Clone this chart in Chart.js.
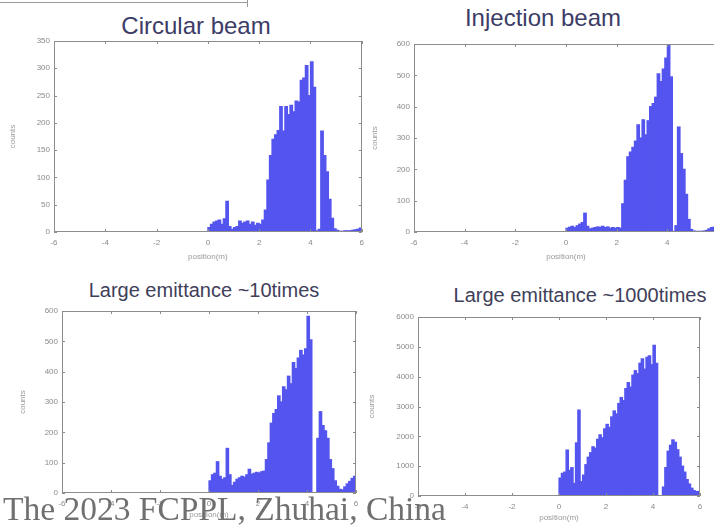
<!DOCTYPE html>
<html>
<head>
<meta charset="utf-8">
<script src="https://cdn.jsdelivr.net/npm/chart.js@4.4.0/dist/chart.umd.min.js"></script>
<style>
body { margin:0; width:714px; height:528px; overflow:hidden; background:#fff; position:relative; font-family:"Liberation Sans", Arial, sans-serif; }
.panel { position:absolute; }
.title { position:absolute; white-space:nowrap; line-height:1; transform:translate(-50%,-50%); }
#footer { position:absolute; left:3px; top:492px; font-family:"Liberation Serif", "Times New Roman", serif; font-size:33.5px; line-height:1; color:#707070; white-space:nowrap; z-index:5; }
.rule { position:absolute; background:#9a9a9a; }
</style>
</head>
<body>

<div class="rule" style="left:0;top:2px;width:247px;height:1px"></div>
<div class="rule" style="left:247px;top:0;width:1px;height:7px"></div>

<div class="title" style="left:196px;top:26px;font-size:24px;color:#3c3c66">Circular beam</div>
<div class="title" style="left:543px;top:18px;font-size:24px;color:#3c3c66">Injection beam</div>
<div class="title" style="left:204px;top:290px;font-size:20px;color:#40405a">Large emittance ~10times</div>
<div class="title" style="left:580px;top:295px;font-size:20px;color:#40405a">Large emittance ~1000times</div>

<div class="panel" style="left:0;top:30px"><canvas id="c1" width="370" height="240"></canvas></div>
<div class="panel" style="left:357px;top:30px"><canvas id="c2" width="370" height="240"></canvas></div>
<div class="panel" style="left:0;top:295px"><canvas id="c3" width="370" height="230"></canvas></div>
<div class="panel" style="left:357px;top:300px"><canvas id="c4" width="357" height="228"></canvas></div>

<div id="footer">The 2023 FCPPL, Zhuhai, China</div>

<script>
// histogram bins, 0.1 m wide (nothing below 0 m)
const binCenters = [
  0.05, 0.15, 0.25, 0.35, 0.45, 0.55, 0.65, 0.75, 0.85, 0.95,
  1.05, 1.15, 1.25, 1.35, 1.45, 1.55, 1.65, 1.75, 1.85, 1.95,
  2.05, 2.15, 2.25, 2.35, 2.45, 2.55, 2.65, 2.75, 2.85, 2.95,
  3.05, 3.15, 3.25, 3.35, 3.45, 3.55, 3.65, 3.75, 3.85, 3.95,
  4.05, 4.15, 4.25, 4.35, 4.45, 4.55, 4.65, 4.75, 4.85, 4.95,
  5.05, 5.15, 5.25, 5.35, 5.45, 5.55, 5.65, 5.75, 5.85, 5.95
]

const circularCounts = [
  8, 14, 18, 20, 22, 14, 24, 56, 10, 5,
  8, 10, 20, 16, 18, 20, 14, 18, 12, 16,
  14, 22, 40, 95, 140, 170, 178, 186, 230, 185,
  230, 215, 232, 220, 240, 238, 278, 282, 305, 250,
  312, 265, 2, 5, 185, 140, 110, 60, 25, 6,
  3, 1, 1, 2, 2, 2, 3, 4, 5, 7
]

const injectionCounts = [
  12, 15, 18, 14, 20, 25, 30, 60, 18, 10,
  12, 14, 16, 15, 18, 14, 16, 12, 14, 12,
  14, 12, 90, 165, 240, 255, 270, 290, 342, 300,
  358, 310, 355, 400, 410, 430, 505, 480, 520, 555,
  598, 495, 2, 20, 335, 250, 200, 120, 40, 8,
  3, 2, 2, 2, 3, 5, 10, 14, 15, 12
]

const emit10Counts = [
  40, 60, 65, 103, 55, 45, 50, 147, 60, 25,
  35, 45, 50, 55, 52, 60, 78, 62, 65, 68,
  66, 70, 72, 110, 165, 230, 262, 275, 320, 300,
  350, 340, 385, 360, 430, 410, 445, 470, 455, 475,
  582, 505, 0, 0, 180, 268, 222, 205, 180, 110,
  80, 40, 22, 12, 10, 20, 30, 38, 48, 55
]

const emit1000Counts = [
  600, 760, 800, 1540, 860, 950, 420, 1780, 2880, 480,
  700, 1050, 1300, 1450, 1650, 1600, 1900, 2050, 1950, 2250,
  2400, 2300, 2650, 2850, 2750, 3100, 3300, 3200, 3600, 3800,
  3650, 4050, 4200, 4100, 4450, 4600, 4250, 4650, 4700, 4400,
  5050, 4450, 0, 0, 300, 950, 1500, 1700, 1880, 1800,
  1550, 1300, 1000, 800, 550, 400, 260, 180, 150, 150
]

const xMin = -6, xMax = 6, xStep = 2
const barColor = '#5454ef'

// box around the plot with little inward ticks, like the gnuplot frame
const framePlugin = {
  id: 'frame',
  afterDatasetsDraw(chart) {
    const ctx = chart.ctx
    const a = chart.chartArea
    const sx = chart.scales.x, sy = chart.scales.y
    ctx.save()
    ctx.strokeStyle = '#8c8c8c'
    ctx.lineWidth = 1
    ctx.strokeRect(Math.round(a.left) + 0.5, Math.round(a.top) + 0.5,
      Math.round(a.right - a.left) - 1, Math.round(a.bottom - a.top) - 1)
    ctx.beginPath()
    sx.ticks.forEach(t => {
      const px = Math.round(sx.getPixelForValue(t.value)) + 0.5
      ctx.moveTo(px, a.top); ctx.lineTo(px, a.top + 3)
      ctx.moveTo(px, a.bottom); ctx.lineTo(px, a.bottom - 3)
    })
    sy.ticks.forEach(t => {
      const py = Math.round(sy.getPixelForValue(t.value)) + 0.5
      ctx.moveTo(a.left, py); ctx.lineTo(a.left + 3, py)
      ctx.moveTo(a.right, py); ctx.lineTo(a.right - 3, py)
    })
    ctx.stroke()
    ctx.restore()
  }
}

function makeHist(id, counts, yMax, yStep, box) {
  const points = binCenters.map((x, i) => ({x: x, y: counts[i]}))
  new Chart(document.getElementById(id), {
    type: 'bar',
    data: {
      datasets: [{
        data: points,
        backgroundColor: barColor,
        borderWidth: 0,
        inflateAmount: 0.6,
        barPercentage: 1,
        categoryPercentage: 1
      }]
    },
    options: {
      responsive: false,
      animation: false,
      layout: {padding: {top: box.top, right: box.right, left: 0, bottom: 0}},
      plugins: {legend: {display: false}, tooltip: {enabled: false}},
      scales: {
        x: {
          type: 'linear', min: xMin, max: xMax, offset: false,
          grid: {display: false, drawTicks: false, offset: false},
          border: {display: false},
          ticks: {stepSize: xStep, color: '#8a8a8a', font: {size: 8}, padding: 6},
          title: {display: true, text: 'position(m)', color: '#9a9a9a', font: {size: 8}, padding: {top: 0, bottom: box.xTitle}},
          afterFit(scale) { scale.height = box.xh }
        },
        y: {
          min: 0, max: yMax,
          grid: {display: false, drawTicks: false},
          border: {display: false},
          ticks: {stepSize: yStep, color: '#8a8a8a', font: {size: 8}, padding: 4,
            callback: v => String(v)},
          title: {display: true, text: 'counts', color: '#9a9a9a', font: {size: 8}, padding: {top: box.yTitle, bottom: 0}},
          afterFit(scale) { scale.width = box.yw }
        }
      }
    },
    plugins: [framePlugin]
  })
}

makeHist('c1', circularCounts, 350, 50, {top: 11, right: 8, yw: 54, xh: 38, xTitle: 8, yTitle: 8})
makeHist('c2', injectionCounts, 600, 100, {top: 14, right: 9, yw: 57, xh: 38, xTitle: 8, yTitle: 13})
makeHist('c3', emit10Counts, 600, 100, {top: 16, right: 14, yw: 62, xh: 32, xTitle: 5, yTitle: 18})
makeHist('c4', emit1000Counts, 6000, 1000, {top: 17, right: 14, yw: 61, xh: 32, xTitle: 5, yTitle: 10})
</script>
</body>
</html>
